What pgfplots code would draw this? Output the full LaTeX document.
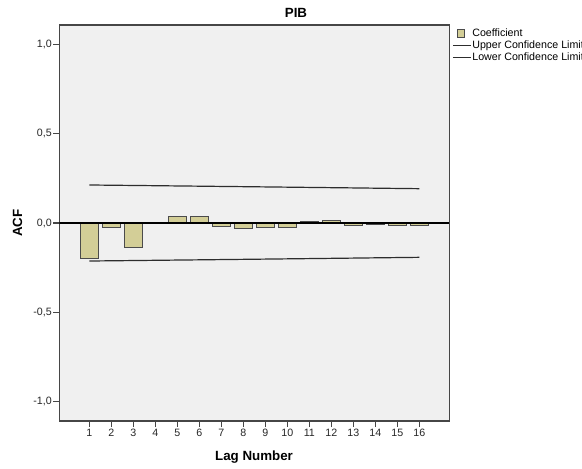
\documentclass[border=0pt]{standalone}
\usepackage{pgfplots}
\usepackage{pgfplotstable}
\pgfplotsset{compat=1.18}
\usepackage{fontspec}
\setmainfont{Liberation Sans}
\definecolor{bg}{RGB}{240,240,240}
\definecolor{barfill}{RGB}{211,206,151}
\definecolor{baredge}{RGB}{75,75,75}
\definecolor{frame}{RGB}{70,70,70}
\definecolor{cline}{RGB}{45,45,45}

\pgfplotstableread{
lag acf upper lower
1 -0.196 0.2125 -0.2125
2 -0.026 0.2112 -0.2112
3 -0.134 0.2099 -0.2099
4 -0.005 0.2086 -0.2086
5 0.036 0.2072 -0.2072
6 0.036 0.2059 -0.2059
7 -0.018 0.2045 -0.2045
8 -0.032 0.2032 -0.2032
9 -0.026 0.2018 -0.2018
10 -0.022 0.2004 -0.2004
11 0.008 0.1990 -0.1990
12 0.013 0.1976 -0.1976
13 -0.013 0.1962 -0.1962
14 -0.006 0.1947 -0.1947
15 -0.015 0.1933 -0.1933
16 -0.011 0.1919 -0.1919
}\acftable

\pgfplotsset{
  linelegend/.style={legend image code/.code={\draw[cline, line width=0.9pt] (0pt,0pt) -- (13.5pt,0pt);}},
  barlegend/.style={legend image code/.code={\draw[fill=barfill, draw=baredge, line width=0.6pt] (3pt,-2.75pt) rectangle (8.5pt,2.75pt);}},
}

\begin{document}
\begin{tikzpicture}
\useasboundingbox (0pt,0pt) rectangle (436.5pt,-351pt);
\begin{axis}[
  at={(44.5pt,-18.75pt)}, anchor=north west,
  scale only axis, width=292.5pt, height=297pt,
  xmin=-0.364, xmax=17.364, ymin=-1.107, ymax=1.107,
  axis background/.style={fill=bg},
  axis line style={frame, line width=0.8pt},
  xtick={1,...,16}, ytick={-1,-0.5,0,0.5,1},
  yticklabels={{-1,0},{-0,5},{0,0},{0,5},{1,0}},
  tick align=outside, xtick pos=bottom, ytick pos=left,
  major tick length=4.5pt,
  tick style={frame, line width=0.8pt},
  ticklabel style={font=\fontsize{8}{9.6}\selectfont, text=black!85},
  yticklabel style={inner sep=1pt},
  xticklabel style={inner sep=1.5pt},
  /pgf/number format/assume math mode=true,
  legend cell align=left,
  legend style={at={(1,1)}, anchor=north west, xshift=2.25pt, yshift=-1.75pt,
    draw=none, fill=none, inner sep=0pt, outer sep=0pt, row sep=0pt,
    font=\fontsize{8}{9.6}\selectfont,
    nodes={inner sep=0.6pt, text height=5.9pt, text depth=2.0pt}},
]
\addplot[ybar, bar width=0.8, fill=barfill, draw=baredge, line width=0.6pt, barlegend]
  table[x=lag, y=acf] {\acftable};
\addlegendentry{Coefficient}
\addplot[cline, line width=0.9pt, no marks, linelegend]
  table[x=lag, y=upper] {\acftable};
\addlegendentry{Upper Confidence Limit}
\addplot[cline, line width=0.9pt, no marks, linelegend]
  table[x=lag, y=lower] {\acftable};
\addlegendentry{Lower Confidence Limit}
\addplot[black, line width=0.8pt, no marks, forget plot] coordinates {(-0.364,0) (17.364,0)};
\end{axis}
\node[font=\bfseries\fontsize{10}{12}\selectfont] at (222pt,-9.75pt) {PIB};
\node[font=\bfseries\fontsize{10}{12}\selectfont, rotate=90] at (13.2pt,-167.25pt) {ACF};
\node[font=\bfseries\fontsize{10}{12}\selectfont] at (190.5pt,-342.5pt) {Lag Number};
\end{tikzpicture}
\end{document}
